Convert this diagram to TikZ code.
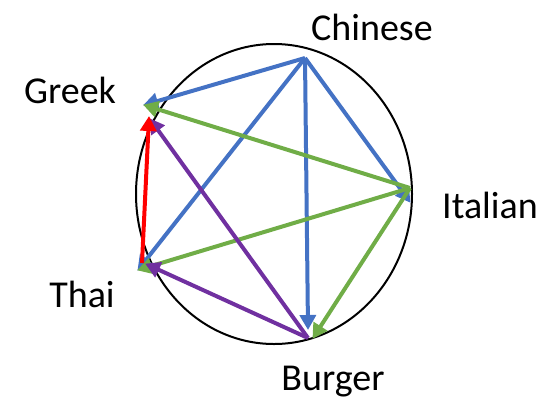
\documentclass[tikz,border=0pt]{standalone}
\usepackage{fontspec}
\setmainfont{Carlito}
\usetikzlibrary{arrows.meta, positioning}

\definecolor{pblue}{RGB}{68,114,196}
\definecolor{pgreen}{RGB}{112,173,71}
\definecolor{ppurple}{RGB}{112,48,160}
\definecolor{pred}{RGB}{255,0,0}

\begin{document}
\begin{tikzpicture}[
x=1pt, y=-1pt,
% Define styles
label/.style = {anchor=base, inner sep=0pt, font=\fontsize{38}{44}\selectfont},
ring/.style = {draw=black, line width=2pt},
arrow/.style = {line width=4pt, -{Triangle[length=15pt, width=16pt]}, shorten >=-1pt}
]
\useasboundingbox (0,0) rectangle (559,400);

% Circle
\draw [ring] (274,194) ellipse [x radius=138, y radius=150];

% Corners
\coordinate (chinese) at (305,58);
\coordinate (greek) at (144,105);
\coordinate (italian) at (410,188);
\coordinate (burger) at (308,338);
\coordinate (thai) at (138,270);

% Labels
\node (chineseLabel) [label] at (372,40) {Chinese};
\node (greekLabel) [label] at (70,103) {Greek};
\node (italianLabel) [label] at (490,218) {Italian};
\node (thaiLabel) [label] at (82,307) {Thai};
\node (burgerLabel) [label] at (333,390) {Burger};

% Arrows
\draw [arrow, pblue] (chinese) -- (greek);
\draw [arrow, pblue] (chinese) -- (thai);
\draw [arrow, pblue] (chinese) -- ([yshift=-14pt]italian);
\draw [arrow, pblue] (chinese) -- ([yshift=9pt]burger);

\draw [arrow, pgreen] (italian) -- (greek);
\draw [arrow, pgreen] (italian) -- (thai);
\draw [arrow, pgreen] (italian) -- ([xshift=5pt]burger);

\draw [arrow, ppurple] (burger) -- ([xshift=6pt,yshift=-14pt]greek);
\draw [arrow, ppurple] (burger) -- ([xshift=8pt,yshift=6pt]thai);

\draw [arrow, pred] ([xshift=4pt,yshift=7pt]thai) -- ([xshift=5pt,yshift=-12pt]greek);
\end{tikzpicture}
\end{document}
